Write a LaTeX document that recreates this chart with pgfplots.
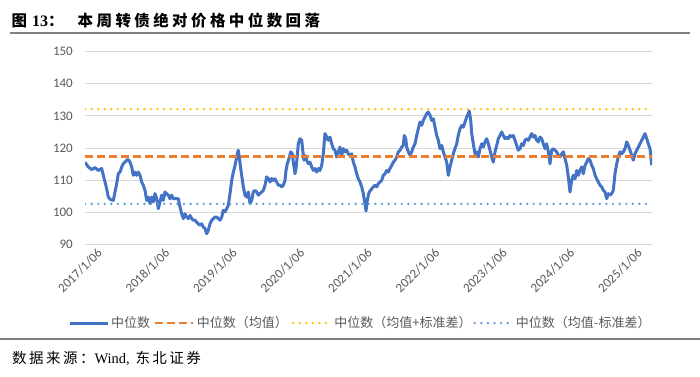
\documentclass[border=0pt]{standalone}
\usepackage{pgfplots}
\pgfplotsset{compat=1.18}
\usepackage{pgfplotstable}
\usepackage{fontspec}
\setmainfont{Carlito}
\newfontfamily\cjk{Noto Sans CJK SC}
\newfontfamily\cjkt[LetterSpace=22]{Noto Sans CJK SC}
\newfontfamily\cjks[LetterSpace=17]{Noto Sans CJK SC}
\newfontfamily\serift{Liberation Serif}
\definecolor{c1}{HTML}{4472C4}
\definecolor{c2}{HTML}{ED7D31}
\definecolor{c3}{HTML}{FFC000}
\definecolor{c4}{HTML}{5B9BD5}
\definecolor{txt}{HTML}{595959}
\definecolor{gridc}{HTML}{D9D9D9}
\definecolor{rule}{HTML}{808080}

% x = position along the date axis (2017/1/06 at 88, one year = 67.5)
\pgfplotstableread{
x y
85 115.6
88.3 114.1
91.7 113.3
95 113.9
98.3 113
101.7 113.6
103.3 111.5
105 109.4
106.7 107.3
108.3 104.7
110.7 103.9
113.3 103.7
115 106.3
116.7 108.9
118.3 112
120 112.5
121.7 114.1
123.3 115.1
126.7 116.2
128.3 116.4
130 115.6
131.7 114.1
133.3 111.5
135 112.5
136.7 111.5
138.3 112.5
140 111.5
141.7 109.4
143.3 108.4
145 106.8
146.7 103.7
148.3 104.7
150 102.7
151.7 104.7
153.3 103.2
155 105.8
156.7 104.2
158.3 101.1
160 103.2
161.7 105.3
163.3 103.7
165 106.3
166.7 105.8
168.3 105.3
170 104.2
171.7 105.3
173.3 104.2
175 104.2
178.3 104.2
180 101.6
181.7 99.5
183.3 98
185 99.5
186.7 98.5
188.3 98
190 99
191.7 98
193.3 97.5
195 97.5
196.7 96.9
198.3 96.4
200 95.9
201.7 96.4
203.3 95.4
205 94.9
206.7 93.3
208.3 94.4
210 96.4
211.7 97.5
213.3 98
215 98.5
216.7 98.5
218.3 98
220 97.5
221.7 98.5
223.3 100.6
225 100.1
226.7 101.1
228.3 102.1
230 105.8
231.7 109.9
233.3 112.5
234.3 113.6
235.7 115.6
237.3 118.2
238.3 119.3
239.3 117.2
240.7 113.6
241.7 111.5
243.3 107.9
245 105.3
246.7 104.7
248.3 106.3
250 102.7
251.7 103.7
253.3 106.3
255 106.8
256.7 106.3
258.3 105.3
260 105.8
261.7 106.3
263.3 106.8
265 108.4
266.7 111
268.3 110.5
270 109.4
271.7 110.5
273.3 109.9
275 110.4
276.7 109.4
278.3 108.4
280 108.4
281.7 107.9
283.3 108.4
285 109.9
286 113
287.3 115.1
289 116.7
290.7 118.8
292.3 118.2
293.3 115.6
295 112
296 113.6
297.3 117.7
298.3 121.3
300 122.9
301.7 122.4
302.7 119.3
304 116.2
305 117.7
306.7 116.2
308.3 115.1
310 115.6
311.7 114.1
313.3 113
315 113.6
316.7 112.5
318.3 113.6
320 113
321.7 114.6
323.3 118.2
325 124.5
326.7 123.4
328.3 122.4
330 123.4
331.7 121.3
333.3 119.8
335 119.3
336.7 117.2
338.3 118.8
340 120.3
341.7 117.7
343.3 119.8
345 118.8
346.7 119.3
348.3 118.2
350 117.7
351.7 118.2
353.3 115.6
355 114.1
356.7 112
358.3 110.4
360 109.4
361.7 107.9
363.3 105.8
365 102.7
366 100.4
367.3 103.7
368.7 105.8
370 106.6
371.7 107.3
373.3 107.9
375 108.4
376.7 107.9
378.3 108.9
380 109.4
381.7 109.9
383.3 111.5
385 112
386.7 113
388.3 112.5
390 113.6
391.7 114.6
393.3 115.6
395 116.2
396.7 117.2
398.3 118.8
400 119.3
401.7 120.3
403.3 120.8
404.3 123.9
405.7 122.9
406.7 120.3
408.3 118.8
410 117.7
411.7 118.8
413.3 120.3
415 121.3
416.7 123.9
418.3 126
420 128.1
421.7 127.1
423.3 128.6
425 129.7
426.7 130.7
428.3 131.2
430 130.2
431.7 128.6
433.3 129.1
435 126.5
436.7 123.9
438.3 122.4
440 119.8
441.7 120.8
443.3 118.8
445 117.2
446.7 115.6
448.3 111.5
450 114.1
451.7 116.2
453.3 118.2
455 119.8
456.7 121.3
458.3 124
460 126
461.7 127
463.3 126.5
465 128.1
466.7 129.7
468.3 130.7
469.3 131.5
470.7 128.6
471.7 124.5
473.3 121.3
475 118.2
476.7 118.8
478.3 117.2
480 119.8
481.7 121.3
483.3 120.3
485 121.9
486.7 122.9
488.3 121.3
490 119.3
491.7 117.2
493.3 115.6
495 118.8
496.7 120.8
498.3 122.9
500 123.9
501.7 125
503.3 123.9
505 122.9
506.7 123.4
508.3 122.9
510 123.9
511.7 123.4
513.3 123.9
515 122.4
516.7 120.8
518.3 119.3
520 119.8
521.7 121.3
523.3 120.8
525 122.4
526.7 122.9
528.3 122.4
530 123.4
531.7 124.5
533.3 123.4
535 123.9
536.7 122.4
538.3 121.9
540 123.4
541.7 122.9
543.3 121.3
545 119.8
546.7 121.3
548.3 118.8
550 115.1
551.7 119.3
553.3 119.8
555 119.3
556.7 118.8
558.3 117.7
560 117.2
561.7 118.2
563.3 118.8
565 116.7
566.7 114.6
568.3 111
570 106.3
571.7 109.9
573.3 111.5
575 110.4
576.7 113
578.3 111.5
580 113
581.7 114.1
583.3 112
585 114.6
586.7 115.6
588.3 116.7
590 116.2
591.7 114.6
593.3 113.6
595 111.5
596.7 110.4
598.3 109.4
600 108.4
601.7 107.9
603.3 106.8
605 106.3
606.7 104.2
608.3 105.8
610 105.3
611.7 105.8
613.3 106.8
615 112
616.7 115.1
618.3 117.2
620 118.8
621.7 118.2
623.3 118.8
625 119.8
626.7 121.9
628.3 120.8
630 119.3
631.7 117.7
633.3 116.2
635 118.2
636.7 119.3
638.3 120.3
640 121.3
641.7 122.4
643.3 123.4
645 124.5
646.7 122.9
648.3 121.3
650 119.8
651.7 114.6
}\median

\begin{document}
\begin{tikzpicture}[x=1pt,y=1pt]
\useasboundingbox (0,0) rectangle (700,376);
% title
\node[anchor=base west, inner sep=0pt] at (11.5,350) {\cjkt\bfseries\fontsize{15.5}{16}\selectfont 图\hspace{5pt}{\serift\bfseries\fontsize{16}{16}\selectfont 13}：\hspace{14pt}本周转债绝对价格中位数回落};
\draw[rule, line width=1.3pt] (10,343) -- (690,343);
\begin{axis}[
  at={(85pt,131.7pt)}, anchor=south west,
  scale only axis, width=567pt, height=192.6pt,
  xmin=85, xmax=652, ymin=90, ymax=150,
  ytick={90,100,...,150},
  xtick={88,155.5,223,290.5,358,425.5,493,560.5,628},
  xticklabels={2017/1/06,2018/1/06,2019/1/06,2020/1/06,2021/1/06,2022/1/06,2023/1/06,2024/1/06,2025/1/06},
  axis line style={draw=none}, tick style={draw=none}, major tick length=0pt,
  ymajorgrids, grid style={gridc, line width=0.9pt},
  /pgf/number format/assume math mode=true,
  yticklabel style={font=\fontsize{13}{13}\selectfont, text=txt, inner sep=0pt, xshift=-12pt},
  xticklabel style={font=\fontsize{13}{13}\selectfont, text=txt, rotate=45, anchor=north east, inner sep=0pt, yshift=-8pt, xshift=4pt},
  legend columns=4,
  legend style={at={(-0.03,-0.409)}, anchor=west, draw=none, fill=none, inner sep=0pt,
    font=\cjk\fontsize{13}{13}\selectfont, text=txt,
    nodes={inner sep=0pt, anchor=west}, column sep=0pt},
  legend image code/.code={\draw[#1] (0pt,0pt) -- (38pt,0pt);},
]
\addplot[c1, line width=3pt, line join=round] table[x=x,y=y] {\median};
\addlegendentry{\makebox[45pt][l]{\hspace{2pt}中位数}}
\addplot[c2, line width=2.6pt, dash pattern=on 8pt off 4pt] coordinates {(85,117.3) (652,117.3)};
\addlegendentry{\makebox[97pt][l]{\hspace{2pt}中位数（均值）}}
\addplot[c3, line width=2.6pt, line cap=round, dash pattern=on 0pt off 6.6pt] coordinates {(85,132.1) (652,132.1)};
\addlegendentry{\makebox[141pt][l]{\hspace{2pt}中位数（均值+标准差）}}
\addplot[c4, line width=2.6pt, line cap=round, dash pattern=on 0pt off 6.6pt] coordinates {(85,102.6) (652,102.6)};
\addlegendentry{\makebox[130pt][l]{\hspace{2pt}中位数（均值-标准差）}}
\end{axis}
\draw[rule, line width=1.3pt] (0,37) -- (700,37);
\node[anchor=base west, inner sep=0pt] at (12,13) {\cjks\fontsize{14.5}{15}\selectfont 数据来源：{\serift\fontsize{14.5}{15}\selectfont Wind,} 东北证券};
\end{tikzpicture}
\end{document}
